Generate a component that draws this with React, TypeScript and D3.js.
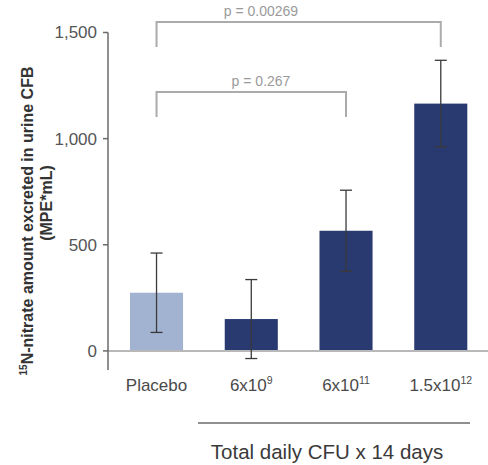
import React from "react";
import * as d3 from "d3";

const groups = ["Placebo", "6x10^9", "6x10^11", "1.5x10^12"];
const means = [274, 150, 566, 1165];
const errors = [187, 186, 191, 204];
const barColors = ["#a2b3d2", "#283a70", "#283a70", "#283a70"];
const yTicks = [0, 500, 1000, 1500];
const comparisons = [
  { from: 0, to: 3, label: "p = 0.00269", level: 0 },
  { from: 0, to: 2, label: "p = 0.267", level: 1 },
];

const W = 488;
const H = 465;
const FONT = "'Liberation Sans', Arial, sans-serif";

function GroupLabel({ text, x, y }: { text: string; x: number; y: number }) {
  const [base, exp] = text.split("^");
  return (
    <text x={x} y={y} textAnchor="middle" fontSize={17} fill="#4a4a4a" fontFamily={FONT}>
      {base}
      {exp && (
        <tspan fontSize={10.5} dy={-7}>
          {exp}
        </tspan>
      )}
    </text>
  );
}

export default function App() {
  const axisX = 108;
  const x = d3
    .scaleBand<number>()
    .domain(d3.range(groups.length))
    .range([130, 467.3])
    .paddingInner(0.44)
    .paddingOuter(0);
  const y = d3.scaleLinear().domain([-90, 1500]).range([370, 32.5]);
  const bw = x.bandwidth();
  const cx = (i: number) => (x(i) as number) + bw / 2;
  const bracketY = [22, 92];
  const legDrop = 25;

  return (
    <svg
      width={W}
      height={H}
      style={{ position: "absolute", left: 0, top: 0, background: "#fff" }}
    >
      {/* bars */}
      {means.map((m, i) => (
        <rect
          key={"b" + i}
          x={x(i)}
          y={y(m)}
          width={bw}
          height={y(0) - y(m)}
          fill={barColors[i]}
        />
      ))}

      {/* zero line */}
      <line x1={axisX} x2={488} y1={y(0)} y2={y(0)} stroke="#b8b8b8" strokeWidth={2} />

      {/* error bars */}
      {means.map((m, i) => (
        <g key={"e" + i} stroke="#3a3a3a" strokeWidth={1.3}>
          <line x1={cx(i)} x2={cx(i)} y1={y(m + errors[i])} y2={y(m - errors[i])} />
          <line x1={cx(i) - 6} x2={cx(i) + 6} y1={y(m + errors[i])} y2={y(m + errors[i])} />
          <line x1={cx(i) - 6} x2={cx(i) + 6} y1={y(m - errors[i])} y2={y(m - errors[i])} />
        </g>
      ))}

      {/* y axis */}
      <line x1={axisX} x2={axisX} y1={y(1500)} y2={y(-90)} stroke="#6a6a6a" strokeWidth={1.5} />
      {yTicks.map((t) => (
        <g key={"t" + t}>
          <line x1={axisX - 5} x2={axisX} y1={y(t)} y2={y(t)} stroke="#6a6a6a" strokeWidth={1.5} />
          <text
            x={axisX - 11}
            y={y(t)}
            dy="0.35em"
            textAnchor="end"
            fontSize={17}
            fill="#555"
            fontFamily={FONT}
          >
            {d3.format(",")(t)}
          </text>
        </g>
      ))}

      {/* y axis title */}
      <text
        transform="translate(33,221) rotate(-90)"
        textAnchor="middle"
        fontSize={16}
        fontWeight="bold"
        fill="#333"
        fontFamily={FONT}
      >
        <tspan fontSize={10} dy={-6}>15</tspan>
        <tspan dy={6}>N-nitrate amount excreted in urine CFB</tspan>
      </text>
      <text
        transform="translate(52,203) rotate(-90)"
        textAnchor="middle"
        fontSize={16}
        fontWeight="bold"
        fill="#333"
        fontFamily={FONT}
      >
        (MPE*mL)
      </text>

      {/* group labels */}
      {groups.map((g, i) => (
        <GroupLabel key={"g" + i} text={g} x={cx(i)} y={391} />
      ))}

      {/* grouping line and title */}
      <line x1={198} x2={470} y1={423} y2={423} stroke="#6a6a6a" strokeWidth={1.5} />
      <text x={327} y={459} textAnchor="middle" fontSize={20.5} fill="#3a3a3a" fontFamily={FONT}>
        Total daily CFU x 14 days
      </text>

      {/* significance brackets */}
      {comparisons.map((c, k) => {
        const by = bracketY[c.level];
        return (
          <g key={"c" + k}>
            <path
              d={`M${cx(c.from)},${by + legDrop} V${by} H${cx(c.to)} V${by + legDrop}`}
              fill="none"
              stroke="#ababab"
              strokeWidth={2}
            />
            <text
              x={261}
              y={by - 6}
              textAnchor="middle"
              fontSize={14}
              fill="#9a9a9a"
              fontFamily={FONT}
            >
              {c.label}
            </text>
          </g>
        );
      })}
    </svg>
  );
}
